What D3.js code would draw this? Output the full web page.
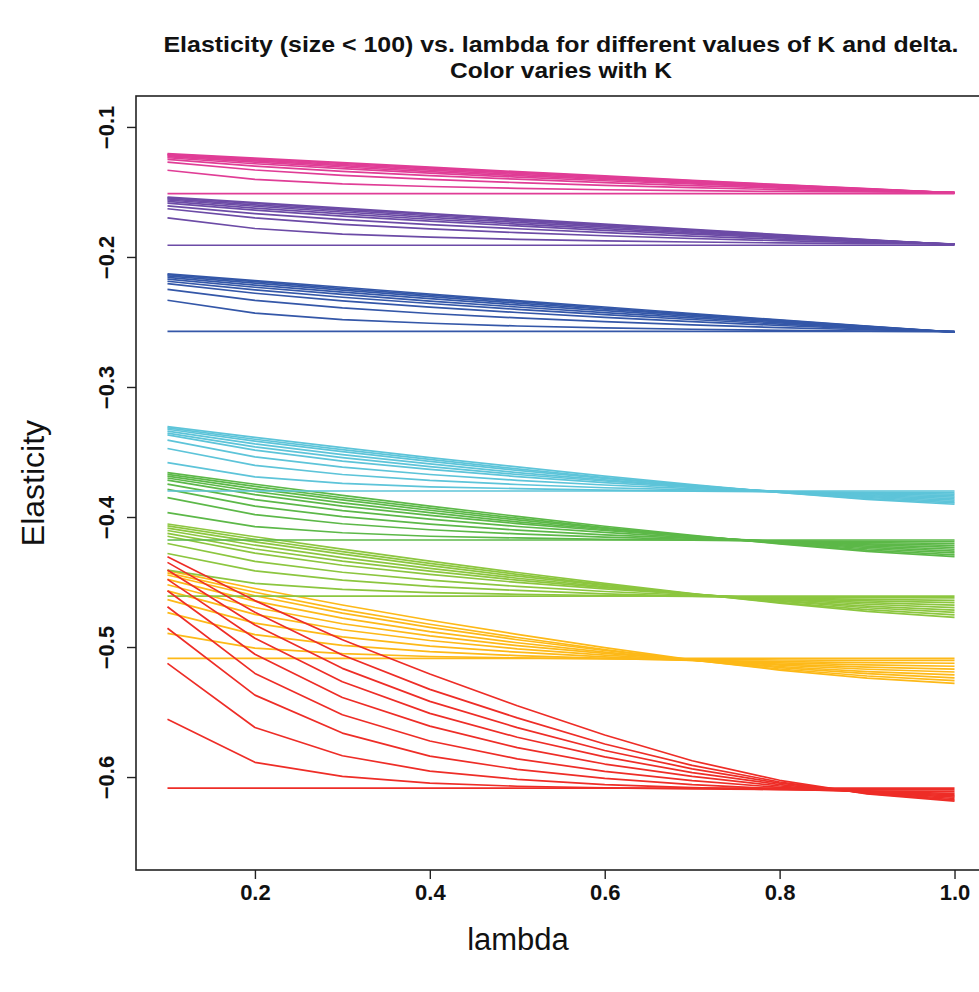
<!DOCTYPE html>
<html>
<head>
<meta charset="utf-8">
<script src="https://cdn.jsdelivr.net/npm/d3@7/dist/d3.min.js"></script>
<style>
  html, body { margin: 0; padding: 0; background: #ffffff; }
  svg { display: block; }
</style>
</head>
<body>
<script>
// ---------------- data ----------------
const lambdaValues = [0.1, 0.2, 0.3, 0.4, 0.5, 0.6, 0.7, 0.8, 0.9, 1.0];
const xTickValues = [0.2, 0.4, 0.6, 0.8, 1.0];
const xTickLabels = ["0.2", "0.4", "0.6", "0.8", "1.0"];
const yTickValues = [-0.1, -0.2, -0.3, -0.4, -0.5, -0.6];
const yTickLabels = ["\u22120.1", "\u22120.2", "\u22120.3", "\u22120.4", "\u22120.5", "\u22120.6"];
const kNames = ["K1", "K2", "K3", "K4", "K5", "K6", "K7", "K8"];
const kColors = ["#EE2D27", "#FDB918", "#8CC63F", "#5CB848", "#5DC4D9", "#3457A8", "#6C4BA6", "#E03D96"];

// each row: one delta value, elasticity at lambda = 0.1 ... 1.0
const seriesK1 = [ // red
  [-0.4305,-0.4643,-0.4944,-0.5207,-0.5452,-0.5677,-0.5875,-0.6025,-0.6129,-0.6185],
  [-0.4349,-0.4732,-0.5061,-0.5326,-0.5545,-0.5746,-0.5910,-0.6038,-0.6126,-0.6175],
  [-0.4408,-0.4830,-0.5164,-0.5418,-0.5620,-0.5796,-0.5937,-0.6047,-0.6123,-0.6165],
  [-0.4480,-0.4932,-0.5267,-0.5510,-0.5694,-0.5845,-0.5966,-0.6058,-0.6120,-0.6155],
  [-0.4567,-0.5056,-0.5388,-0.5608,-0.5774,-0.5900,-0.5995,-0.6069,-0.6117,-0.6145],
  [-0.4690,-0.5203,-0.5521,-0.5723,-0.5860,-0.5957,-0.6028,-0.6080,-0.6115,-0.6135],
  [-0.4856,-0.5370,-0.5662,-0.5839,-0.5941,-0.6011,-0.6059,-0.6091,-0.6112,-0.6125],
  [-0.5126,-0.5619,-0.5836,-0.5954,-0.6018,-0.6058,-0.6082,-0.6097,-0.6106,-0.6112],
  [-0.5556,-0.5887,-0.5995,-0.6047,-0.6071,-0.6084,-0.6091,-0.6095,-0.6097,-0.6098],
  [-0.6085,-0.6085,-0.6085,-0.6085,-0.6085,-0.6085,-0.6085,-0.6085,-0.6085,-0.6085]
];
const seriesK2 = [ // orange
  [-0.4413,-0.4550,-0.4677,-0.4794,-0.4903,-0.5005,-0.5099,-0.5177,-0.5239,-0.5280],
  [-0.4430,-0.4579,-0.4712,-0.4825,-0.4927,-0.5020,-0.5102,-0.5169,-0.5223,-0.5259],
  [-0.4446,-0.4606,-0.4739,-0.4849,-0.4944,-0.5027,-0.5099,-0.5158,-0.5205,-0.5237],
  [-0.4480,-0.4647,-0.4778,-0.4881,-0.4967,-0.5039,-0.5100,-0.5150,-0.5189,-0.5215],
  [-0.4521,-0.4696,-0.4821,-0.4914,-0.4989,-0.5049,-0.5099,-0.5140,-0.5171,-0.5192],
  [-0.4568,-0.4749,-0.4867,-0.4950,-0.5014,-0.5062,-0.5101,-0.5131,-0.5154,-0.5170],
  [-0.4635,-0.4816,-0.4922,-0.4993,-0.5040,-0.5076,-0.5102,-0.5122,-0.5138,-0.5148],
  [-0.4736,-0.4905,-0.4987,-0.5036,-0.5066,-0.5087,-0.5102,-0.5112,-0.5120,-0.5125],
  [-0.4895,-0.5008,-0.5051,-0.5073,-0.5084,-0.5092,-0.5097,-0.5100,-0.5102,-0.5103],
  [-0.5087,-0.5087,-0.5087,-0.5087,-0.5087,-0.5087,-0.5087,-0.5087,-0.5087,-0.5087]
];
const seriesK3 = [ // yellow-green
  [-0.4054,-0.4152,-0.4247,-0.4340,-0.4427,-0.4511,-0.4590,-0.4662,-0.4726,-0.4772],
  [-0.4068,-0.4171,-0.4267,-0.4356,-0.4441,-0.4520,-0.4592,-0.4656,-0.4713,-0.4753],
  [-0.4085,-0.4192,-0.4286,-0.4374,-0.4455,-0.4526,-0.4591,-0.4648,-0.4698,-0.4734],
  [-0.4104,-0.4217,-0.4312,-0.4395,-0.4471,-0.4535,-0.4594,-0.4643,-0.4685,-0.4716],
  [-0.4126,-0.4246,-0.4340,-0.4417,-0.4486,-0.4543,-0.4594,-0.4636,-0.4671,-0.4697],
  [-0.4148,-0.4278,-0.4371,-0.4442,-0.4503,-0.4553,-0.4596,-0.4629,-0.4658,-0.4678],
  [-0.4204,-0.4341,-0.4425,-0.4486,-0.4534,-0.4573,-0.4602,-0.4626,-0.4645,-0.4659],
  [-0.4281,-0.4414,-0.4486,-0.4533,-0.4565,-0.4591,-0.4609,-0.4623,-0.4634,-0.4641],
  [-0.4409,-0.4511,-0.4556,-0.4582,-0.4594,-0.4605,-0.4611,-0.4617,-0.4620,-0.4622],
  [-0.4608,-0.4608,-0.4608,-0.4608,-0.4608,-0.4608,-0.4608,-0.4608,-0.4608,-0.4608]
];
const seriesK4 = [ // green
  [-0.3659,-0.3748,-0.3833,-0.3916,-0.3995,-0.4071,-0.4142,-0.4206,-0.4264,-0.4305],
  [-0.3672,-0.3765,-0.3852,-0.3932,-0.4009,-0.4081,-0.4146,-0.4203,-0.4255,-0.4291],
  [-0.3685,-0.3783,-0.3868,-0.3948,-0.4022,-0.4087,-0.4146,-0.4198,-0.4244,-0.4276],
  [-0.3700,-0.3804,-0.3891,-0.3967,-0.4037,-0.4096,-0.4150,-0.4195,-0.4234,-0.4262],
  [-0.3716,-0.3828,-0.3916,-0.3987,-0.4051,-0.4104,-0.4152,-0.4191,-0.4224,-0.4248],
  [-0.3747,-0.3866,-0.3951,-0.4017,-0.4073,-0.4119,-0.4158,-0.4188,-0.4215,-0.4233],
  [-0.3788,-0.3917,-0.3997,-0.4055,-0.4101,-0.4137,-0.4165,-0.4188,-0.4206,-0.4219],
  [-0.3851,-0.3982,-0.4052,-0.4098,-0.4130,-0.4155,-0.4172,-0.4186,-0.4197,-0.4204],
  [-0.3967,-0.4074,-0.4121,-0.4148,-0.4161,-0.4172,-0.4179,-0.4184,-0.4188,-0.4190],
  [-0.4177,-0.4177,-0.4177,-0.4177,-0.4177,-0.4177,-0.4177,-0.4177,-0.4177,-0.4177]
];
const seriesK5 = [ // cyan
  [-0.3305,-0.3387,-0.3466,-0.3543,-0.3615,-0.3685,-0.3751,-0.3811,-0.3864,-0.3902],
  [-0.3315,-0.3402,-0.3482,-0.3557,-0.3630,-0.3696,-0.3756,-0.3810,-0.3858,-0.3892],
  [-0.3325,-0.3417,-0.3497,-0.3572,-0.3642,-0.3703,-0.3759,-0.3808,-0.3850,-0.3881],
  [-0.3340,-0.3438,-0.3520,-0.3592,-0.3658,-0.3714,-0.3764,-0.3806,-0.3844,-0.3870],
  [-0.3355,-0.3461,-0.3544,-0.3612,-0.3673,-0.3723,-0.3768,-0.3805,-0.3836,-0.3859],
  [-0.3369,-0.3486,-0.3570,-0.3634,-0.3689,-0.3735,-0.3773,-0.3803,-0.3829,-0.3847],
  [-0.3409,-0.3537,-0.3616,-0.3673,-0.3718,-0.3754,-0.3782,-0.3804,-0.3822,-0.3835],
  [-0.3473,-0.3603,-0.3673,-0.3719,-0.3750,-0.3775,-0.3792,-0.3806,-0.3817,-0.3824],
  [-0.3582,-0.3692,-0.3741,-0.3768,-0.3782,-0.3794,-0.3801,-0.3806,-0.3810,-0.3812],
  [-0.3800,-0.3800,-0.3800,-0.3800,-0.3800,-0.3800,-0.3800,-0.3800,-0.3800,-0.3800]
];
const seriesK6 = [ // blue
  [-0.2130,-0.2182,-0.2233,-0.2285,-0.2336,-0.2385,-0.2435,-0.2484,-0.2531,-0.2578],
  [-0.2137,-0.2190,-0.2243,-0.2294,-0.2344,-0.2393,-0.2441,-0.2488,-0.2534,-0.2578],
  [-0.2145,-0.2201,-0.2255,-0.2305,-0.2355,-0.2402,-0.2447,-0.2493,-0.2536,-0.2577],
  [-0.2157,-0.2216,-0.2270,-0.2321,-0.2369,-0.2413,-0.2457,-0.2499,-0.2539,-0.2577],
  [-0.2170,-0.2233,-0.2288,-0.2339,-0.2385,-0.2428,-0.2468,-0.2507,-0.2542,-0.2576],
  [-0.2187,-0.2253,-0.2310,-0.2358,-0.2403,-0.2444,-0.2481,-0.2516,-0.2547,-0.2576],
  [-0.2205,-0.2279,-0.2338,-0.2386,-0.2427,-0.2464,-0.2497,-0.2527,-0.2553,-0.2575],
  [-0.2249,-0.2334,-0.2392,-0.2435,-0.2469,-0.2498,-0.2523,-0.2544,-0.2560,-0.2575],
  [-0.2333,-0.2432,-0.2482,-0.2510,-0.2531,-0.2545,-0.2556,-0.2564,-0.2570,-0.2574],
  [-0.2572,-0.2572,-0.2572,-0.2572,-0.2572,-0.2572,-0.2572,-0.2572,-0.2572,-0.2572]
];
const seriesK7 = [ // purple
  [-0.1540,-0.1582,-0.1624,-0.1666,-0.1707,-0.1748,-0.1788,-0.1828,-0.1866,-0.1904],
  [-0.1546,-0.1589,-0.1632,-0.1673,-0.1714,-0.1754,-0.1793,-0.1831,-0.1868,-0.1904],
  [-0.1553,-0.1599,-0.1642,-0.1683,-0.1723,-0.1761,-0.1798,-0.1835,-0.1870,-0.1903],
  [-0.1562,-0.1610,-0.1654,-0.1695,-0.1734,-0.1770,-0.1806,-0.1840,-0.1872,-0.1903],
  [-0.1573,-0.1624,-0.1668,-0.1710,-0.1747,-0.1782,-0.1815,-0.1846,-0.1875,-0.1902],
  [-0.1586,-0.1640,-0.1686,-0.1725,-0.1761,-0.1795,-0.1825,-0.1853,-0.1878,-0.1902],
  [-0.1607,-0.1666,-0.1713,-0.1751,-0.1783,-0.1813,-0.1839,-0.1863,-0.1883,-0.1901],
  [-0.1629,-0.1700,-0.1749,-0.1784,-0.1813,-0.1837,-0.1858,-0.1875,-0.1889,-0.1901],
  [-0.1699,-0.1781,-0.1824,-0.1847,-0.1864,-0.1876,-0.1885,-0.1892,-0.1897,-0.1900],
  [-0.1910,-0.1910,-0.1910,-0.1910,-0.1910,-0.1910,-0.1910,-0.1910,-0.1910,-0.1910]
];
const seriesK8 = [ // pink
  [-0.1205,-0.1240,-0.1275,-0.1309,-0.1344,-0.1377,-0.1410,-0.1444,-0.1475,-0.1507],
  [-0.1210,-0.1246,-0.1281,-0.1315,-0.1350,-0.1382,-0.1415,-0.1446,-0.1477,-0.1507],
  [-0.1215,-0.1253,-0.1289,-0.1323,-0.1356,-0.1388,-0.1419,-0.1449,-0.1478,-0.1506],
  [-0.1221,-0.1261,-0.1298,-0.1332,-0.1365,-0.1395,-0.1425,-0.1453,-0.1480,-0.1506],
  [-0.1228,-0.1271,-0.1308,-0.1343,-0.1375,-0.1404,-0.1432,-0.1458,-0.1482,-0.1505],
  [-0.1237,-0.1283,-0.1321,-0.1355,-0.1386,-0.1414,-0.1439,-0.1464,-0.1485,-0.1505],
  [-0.1250,-0.1301,-0.1341,-0.1375,-0.1402,-0.1428,-0.1451,-0.1471,-0.1489,-0.1504],
  [-0.1270,-0.1331,-0.1373,-0.1403,-0.1428,-0.1449,-0.1467,-0.1482,-0.1494,-0.1504],
  [-0.1333,-0.1403,-0.1438,-0.1458,-0.1472,-0.1483,-0.1490,-0.1496,-0.1500,-0.1503],
  [-0.1513,-0.1513,-0.1513,-0.1513,-0.1513,-0.1513,-0.1513,-0.1513,-0.1513,-0.1513]
];
const allSeries = [seriesK1, seriesK2, seriesK3, seriesK4, seriesK5, seriesK6, seriesK7, seriesK8];
const drawOrder = [1, 2, 3, 0, 4, 5, 6, 7];

const titleLines = ["Elasticity (size < 100) vs. lambda for different values of K and delta.", "Color varies with K"];
const xLabel = "lambda";
const yLabel = "Elasticity";

// ---------------- layout ----------------
const W = 979, H = 992;
const plot = { left: 136, right: 986, top: 96, bottom: 870 };

const svg = d3.select("body").append("svg").attr("width", W).attr("height", H)
  .style("font-family", "'Liberation Sans', Arial, Helvetica, sans-serif");

const x = d3.scaleLinear().domain([0.064, 1.036]).range([plot.left, plot.right]);
const y = d3.scaleLinear().domain([-0.6715, -0.0762]).range([plot.bottom, plot.top]);

// lines
const line = d3.line().x((d, i) => x(lambdaValues[i])).y(d => y(d));
const linesG = svg.append("g");
drawOrder.forEach(k => {
  linesG.append("g").attr("class", kNames[k])
    .selectAll("path").data(allSeries[k]).join("path")
    .attr("d", line)
    .attr("fill", "none")
    .attr("stroke", kColors[k])
    .attr("stroke-width", 1.7)
    .attr("stroke-linejoin", "round");
});

// box
svg.append("rect")
  .attr("x", plot.left).attr("y", plot.top)
  .attr("width", plot.right - plot.left).attr("height", plot.bottom - plot.top)
  .attr("fill", "none").attr("stroke", "#222").attr("stroke-width", 1.6);

// x axis
const xAxis = d3.axisBottom(x).tickValues(xTickValues)
  .tickFormat((d, i) => xTickLabels[i]).tickSizeInner(9).tickSizeOuter(0).tickPadding(5);
const gx = svg.append("g").attr("transform", `translate(0,${plot.bottom})`).call(xAxis);
gx.select(".domain").remove();
gx.selectAll(".tick line").attr("stroke", "#222").attr("stroke-width", 1.4);
gx.selectAll(".tick text").attr("fill", "#111")
  .style("font-size", "22px").style("font-weight", "bold");

// y axis
const yAxis = d3.axisLeft(y).tickValues(yTickValues)
  .tickFormat((d, i) => yTickLabels[i]).tickSizeInner(9).tickSizeOuter(0).tickPadding(0);
const gy = svg.append("g").attr("transform", `translate(${plot.left},0)`).call(yAxis);
gy.select(".domain").remove();
gy.selectAll(".tick line").attr("stroke", "#222").attr("stroke-width", 1.4);
gy.selectAll(".tick text")
  .attr("x", null).attr("dy", null)
  .attr("text-anchor", "middle")
  .attr("transform", "translate(-22,0) rotate(-90)")
  .attr("fill", "#111")
  .style("font-size", "22px").style("font-weight", "bold");

// title
const cx = (plot.left + plot.right) / 2;
svg.append("text").attr("x", cx).attr("y", 52).attr("text-anchor", "middle")
  .style("font-size", "22px").style("font-weight", "bold").attr("fill", "#111")
  .attr("textLength", 795).attr("lengthAdjust", "spacingAndGlyphs")
  .text(titleLines[0]);
svg.append("text").attr("x", cx).attr("y", 78).attr("text-anchor", "middle")
  .style("font-size", "22px").style("font-weight", "bold").attr("fill", "#111")
  .attr("textLength", 222).attr("lengthAdjust", "spacingAndGlyphs")
  .text(titleLines[1]);

// axis titles
svg.append("text").attr("x", 518).attr("y", 950).attr("text-anchor", "middle")
  .style("font-size", "31px").attr("fill", "#111").text(xLabel);
svg.append("text").attr("transform", `translate(44,${(plot.top + plot.bottom) / 2}) rotate(-90)`)
  .attr("text-anchor", "middle")
  .style("font-size", "32px").attr("fill", "#111").text(yLabel);
</script>
</body>
</html>
